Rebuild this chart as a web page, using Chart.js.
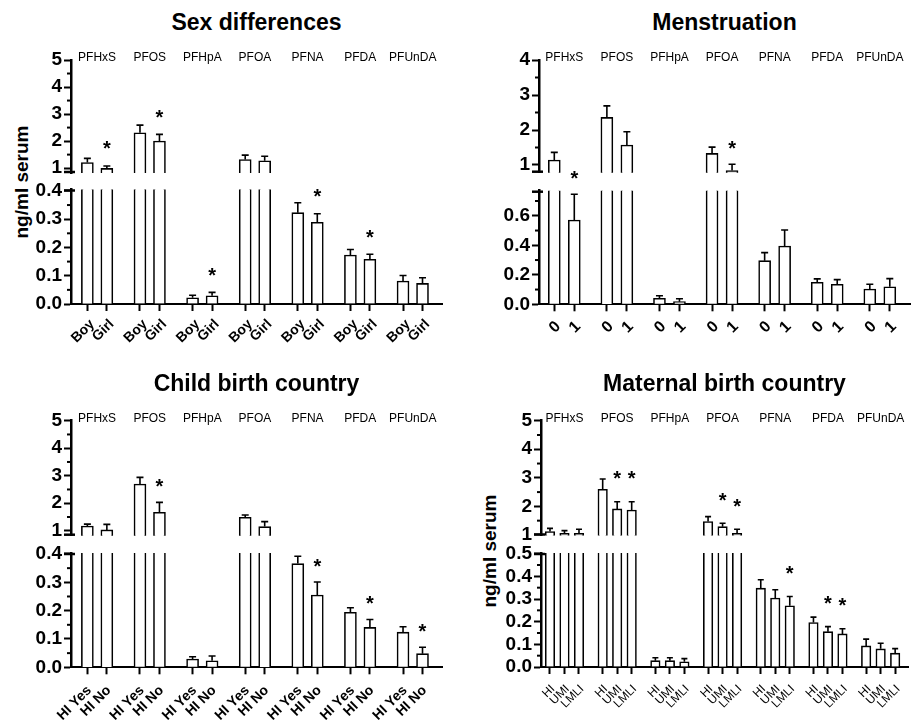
<!DOCTYPE html>
<html><head><meta charset="utf-8">
<script src="https://cdn.jsdelivr.net/npm/chart.js@4.4.1/dist/chart.umd.min.js"></script>
<style>
html,body{margin:0;padding:0;background:#fff;}
#wrap{position:relative;width:917px;height:724px;overflow:hidden;background:#fff;font-family:'Liberation Sans',Arial,Helvetica,sans-serif;color:#000;}
canvas{position:absolute;}
.title{position:absolute;text-align:center;font-weight:bold;font-size:23px;line-height:23px;white-space:nowrap;}
.ytitle{position:absolute;font-weight:bold;font-size:19px;line-height:19px;white-space:nowrap;transform:translate(-50%,-50%) rotate(-90deg);}
</style></head>
<body><div id="wrap"></div>
<script>
// ---------------- DATA ----------------
const compounds = ['PFHxS','PFOS','PFHpA','PFOA','PFNA','PFDA','PFUnDA'];

// Sex differences
const sexLevels   = ['Boy','Girl'];
const sexBoy      = [1.21, 2.31, 0.022, 1.32, 0.323, 0.173, 0.081];
const sexBoyErr   = [0.15, 0.28, 0.009, 0.16, 0.035, 0.020, 0.020];
const sexGirl     = [0.99, 2.00, 0.029, 1.27, 0.289, 0.158, 0.073];
const sexGirlErr  = [0.09, 0.25, 0.012, 0.17, 0.030, 0.018, 0.020];
const sexGirlSig  = [1, 1, 1, 0, 1, 1, 0];

// Menstruation
const menLevels   = ['0','1'];
const men0        = [1.14, 2.36, 0.041, 1.33, 0.296, 0.149, 0.104];
const men0Err     = [0.22, 0.33, 0.017, 0.18, 0.054, 0.023, 0.032];
const men1        = [0.571, 1.57, 0.018, 0.84, 0.395, 0.136, 0.119];
const men1Err     = [0.175, 0.38, 0.020, 0.18, 0.109, 0.031, 0.055];
const men1Sig     = [1, 0, 0, 1, 0, 0, 0];

// Child birth country
const childLevels = ['HI Yes','HI No'];
const hiYes       = [1.17, 2.70, 0.029, 1.49, 0.366, 0.194, 0.124];
const hiYesErr    = [0.07, 0.24, 0.008, 0.08, 0.026, 0.016, 0.019];
const hiNo        = [1.03, 1.67, 0.023, 1.15, 0.255, 0.141, 0.048];
const hiNoErr     = [0.20, 0.36, 0.017, 0.18, 0.046, 0.028, 0.023];
const hiNoSig     = [0, 1, 0, 0, 1, 1, 1];

// Maternal birth country
const matLevels   = ['HI','UMI','LMLI'];
const matHI       = [1.12, 2.60, 0.028, 1.47, 0.348, 0.196, 0.093];
const matHIErr    = [0.11, 0.36, 0.013, 0.17, 0.037, 0.024, 0.030];
const matUMI      = [1.06, 1.91, 0.028, 1.29, 0.304, 0.156, 0.080];
const matUMIErr   = [0.09, 0.25, 0.013, 0.12, 0.037, 0.022, 0.025];
const matUMISig   = [0, 1, 0, 1, 0, 1, 0];
const matLMLI     = [1.06, 1.87, 0.023, 1.06, 0.270, 0.146, 0.061];
const matLMLIErr  = [0.14, 0.29, 0.014, 0.14, 0.041, 0.023, 0.020];
const matLMLISig  = [0, 1, 0, 1, 1, 1, 0];

// Tick values
const upperTicks5   = [1, 2, 3, 4, 5];
const upperMinor5   = [1.5, 2.5, 3.5, 4.5];
const upperTicks4   = [1, 2, 3, 4];
const upperMinor4   = [1.5, 2.5, 3.5];
const lowerTicks04  = [0, 0.1, 0.2, 0.3, 0.4];
const lowerMinor04  = [0.05, 0.15, 0.25, 0.35];
const lowerTicksMen = [0, 0.2, 0.4, 0.6];
const lowerMinorMen = [0.1, 0.3, 0.5, 0.7];
const lowerTicks05  = [0, 0.1, 0.2, 0.3, 0.4, 0.5];
const lowerMinor05  = [0.05, 0.15, 0.25, 0.35, 0.45];

// ---------------- RENDER ----------------
const FONT = "'Liberation Sans', Arial, Helvetica, sans-serif";
Chart.defaults.font.family = FONT;
Chart.defaults.color = '#000';
const wrap = document.getElementById('wrap');

const decoPlugin = {
  id: 'deco',
  afterDraw(chart) {
    const o = chart.options.plugins.deco;
    if (!o) return;
    const ctx = chart.ctx, xs = chart.scales.x, ys = chart.scales.y, a = chart.chartArea;
    ctx.save();
    ctx.strokeStyle = '#000'; ctx.fillStyle = '#000';
    // error bars + asterisks
    chart.data.datasets.forEach(ds => {
      ds.data.forEach((pt, i) => {
        if (pt.y < ys.min || pt.y > ys.max) return;
        const x = xs.getPixelForValue(pt.x);
        const y0 = ys.getPixelForValue(pt.y);
        const y1 = ys.getPixelForValue(pt.y + ds.errors[i]);
        ctx.lineWidth = 1.6;
        ctx.beginPath();
        ctx.moveTo(x, y0); ctx.lineTo(x, y1);
        ctx.moveTo(x - o.cap / 2, y1); ctx.lineTo(x + o.cap / 2, y1);
        ctx.stroke();
        if (ds.sig && ds.sig[i]) {
          ctx.font = 'bold 20px ' + FONT;
          ctx.textAlign = 'center'; ctx.textBaseline = 'alphabetic';
          ctx.fillText('*', x, y1 - o.starGap + 11.5);
        }
      });
    });
    // minor ticks
    ctx.lineWidth = 2;
    o.minor.forEach(v => {
      const y = ys.getPixelForValue(v);
      ctx.beginPath(); ctx.moveTo(a.left - 4, y); ctx.lineTo(a.left, y); ctx.stroke();
    });
    // axis break caps
    ctx.lineWidth = 2.5;
    const cy = o.capAt === 'bottom' ? a.bottom - 1 : a.top + 1;
    ctx.beginPath(); ctx.moveTo(a.left - 7, cy); ctx.lineTo(a.left + 4, cy); ctx.stroke();
    // compound labels
    if (o.groupLabels) {
      ctx.font = '12px ' + FONT;
      ctx.textAlign = 'center'; ctx.textBaseline = 'middle';
      compounds.forEach((c, g) => {
        const x = xs.getPixelForValue(g * o.step + (o.n - 1) / 2);
        ctx.fillText(c, x, a.top - 2);
      });
    }
    ctx.restore();
  }
};

function addCanvas(left, top, w, h) {
  const c = document.createElement('canvas');
  c.width = w; c.height = h;
  c.style.left = left + 'px'; c.style.top = top + 'px';
  c.style.width = w + 'px'; c.style.height = h + 'px';
  wrap.appendChild(c);
  return c;
}

function buildPart(P, part, isUpper) {
  const canvasTop = Math.floor(part.top) - (isUpper ? 18 : 36);
  const canvasBottom = isUpper ? Math.ceil(part.bottom) + 18 : part.canvasBottom;
  const canvasRight = P.areaRight + 8;
  const w = canvasRight - P.canvasLeft, h = canvasBottom - canvasTop;
  const cv = addCanvas(P.canvasLeft, canvasTop, w, h);
  const n = P.levels.length;
  const tickPos = [];
  compounds.forEach((c, g) => P.levels.forEach((l, j) => tickPos.push(g * P.step + j)));
  const datasets = P.series.map((s, j) => ({
    data: compounds.map((c, g) => ({ x: g * P.step + j, y: s.v[g] })),
    errors: s.e, sig: s.s,
    backgroundColor: '#fff', borderColor: '#000', borderWidth: 1.6,
    barThickness: P.barPx, grouped: false, clip: 0, borderSkipped: 'start'
  }));
  new Chart(cv, {
    type: 'bar',
    data: { datasets },
    options: {
      responsive: false, animation: false, devicePixelRatio: 1,
      layout: { padding: { left: 0, right: canvasRight - P.areaRight,
        top: part.top - canvasTop, bottom: isUpper ? canvasBottom - part.bottom : 0 } },
      plugins: {
        legend: { display: false }, tooltip: { enabled: false },
        deco: { cap: P.capPx, starGap: P.starGap, minor: part.minor,
          capAt: isUpper ? 'bottom' : 'top', groupLabels: isUpper, step: P.step, n }
      },
      scales: {
        x: {
          type: 'linear', min: P.xMin, max: P.xMax, offset: false, display: !isUpper,
          afterBuildTicks: s => { s.ticks = tickPos.map(v => ({ value: v })); },
          afterFit: s => { if (!isUpper) s.height = canvasBottom - part.bottom; },
          border: { display: true, color: '#000', width: 2 },
          grid: { display: true, drawOnChartArea: false, drawTicks: true, tickLength: 7,
            tickWidth: 2, tickColor: '#000', offset: false },
          ticks: { autoSkip: false, minRotation: 45, maxRotation: 45, padding: P.xPad,
            labelOffset: P.xShift,
            font: P.xFont, color: '#000', callback: (v, i) => P.levels[i % n] }
        },
        y: {
          type: 'linear', min: part.min, max: part.max, beginAtZero: false,
          afterBuildTicks: s => { s.ticks = part.major.map(v => ({ value: v })); },
          afterFit: s => { s.width = P.areaLeft - P.canvasLeft; },
          border: { display: true, color: '#000', width: 2.5 },
          grid: { display: true, drawOnChartArea: false, drawTicks: true, tickLength: 7,
            tickWidth: 2, tickColor: '#000' },
          ticks: { autoSkip: false, padding: 2, font: { size: 19, weight: 'bold', lineHeight: 1 }, color: '#000',
            callback: v => Number(v).toFixed(part.dec) }
        }
      }
    },
    plugins: [decoPlugin]
  });
}

function addText(cls, text, style) {
  const d = document.createElement('div');
  d.className = cls; d.textContent = text;
  Object.assign(d.style, style);
  wrap.appendChild(d);
}

function buildPanel(P) {
  addText('title', P.title, { left: P.areaLeft + 'px', width: (P.areaRight - P.areaLeft) + 'px',
    top: (P.titleY - 11.5) + 'px' });
  if (P.yTitle) addText('ytitle', 'ng/ml serum', { left: P.yTitle.x + 'px', top: P.yTitle.y + 'px' });
  buildPart(P, P.upper, true);
  buildPart(P, P.lower, false);
}

const panels = [
  { title: 'Sex differences', titleY: 22.5, yTitle: { x: 21, y: 182 },
    canvasLeft: 0, areaLeft: 71, areaRight: 442,
    levels: sexLevels,
    series: [{ v: sexBoy, e: sexBoyErr, s: null }, { v: sexGirl, e: sexGirlErr, s: sexGirlSig }],
    step: 2.7, xMin: -0.84, xMax: 18.2, barPx: 12, capPx: 7, starGap: 22,
    xFont: { size: 14, weight: 'bold' }, xPad: 5, xShift: 5,
    upper: { top: 60, bottom: 173, min: 0.82, max: 5, major: upperTicks5, minor: upperMinor5, dec: 0 },
    lower: { top: 189.5, bottom: 304, min: 0, max: 0.405, major: lowerTicks04, minor: lowerMinor04, dec: 1, canvasBottom: 360 } },
  { title: 'Menstruation', titleY: 22.5, yTitle: null,
    canvasLeft: 460, areaLeft: 539, areaRight: 910,
    levels: menLevels,
    series: [{ v: men0, e: men0Err, s: null }, { v: men1, e: men1Err, s: men1Sig }],
    step: 2.63, xMin: -0.765, xMax: 17.79, barPx: 12, capPx: 7, starGap: 21,
    xFont: { size: 16, weight: 'bold' }, xPad: 6, xShift: 4,
    upper: { top: 60, bottom: 172.7, min: 0.78, max: 4, major: upperTicks4, minor: upperMinor4, dec: 0 },
    lower: { top: 190.7, bottom: 304.3, min: 0, max: 0.77, major: lowerTicksMen, minor: lowerMinorMen, dec: 1, canvasBottom: 360 } },
  { title: 'Child birth country', titleY: 383.5, yTitle: null,
    canvasLeft: 0, areaLeft: 71, areaRight: 442,
    levels: childLevels,
    series: [{ v: hiYes, e: hiYesErr, s: null }, { v: hiNo, e: hiNoErr, s: hiNoSig }],
    step: 2.7, xMin: -0.84, xMax: 18.2, barPx: 12, capPx: 7, starGap: 21,
    xFont: { size: 14, weight: 'bold' }, xPad: 8, xShift: 2,
    upper: { top: 420.7, bottom: 535.7, min: 0.82, max: 5, major: upperTicks5, minor: upperMinor5, dec: 0 },
    lower: { top: 553, bottom: 667.3, min: 0, max: 0.4035, major: lowerTicks04, minor: lowerMinor04, dec: 1, canvasBottom: 724 } },
  { title: 'Maternal birth country', titleY: 383.5, yTitle: { x: 489, y: 551 },
    canvasLeft: 460, areaLeft: 541, areaRight: 908,
    levels: matLevels,
    series: [{ v: matHI, e: matHIErr, s: null }, { v: matUMI, e: matUMIErr, s: matUMISig },
             { v: matLMLI, e: matLMLIErr, s: matLMLISig }],
    step: 3.634, xMin: -0.62, xMax: 24.69, barPx: 9.5, capPx: 6, starGap: 28,
    xFont: { size: 12, weight: 'normal' }, xPad: 8, xShift: 3,
    upper: { top: 420.7, bottom: 535.5, min: 0.98, max: 5, major: upperTicks5, minor: upperMinor5, dec: 0 },
    lower: { top: 553, bottom: 667, min: 0, max: 0.503, major: lowerTicks05, minor: lowerMinor05, dec: 1, canvasBottom: 724 } }
];

panels.forEach(buildPanel);
</script>
</body></html>
